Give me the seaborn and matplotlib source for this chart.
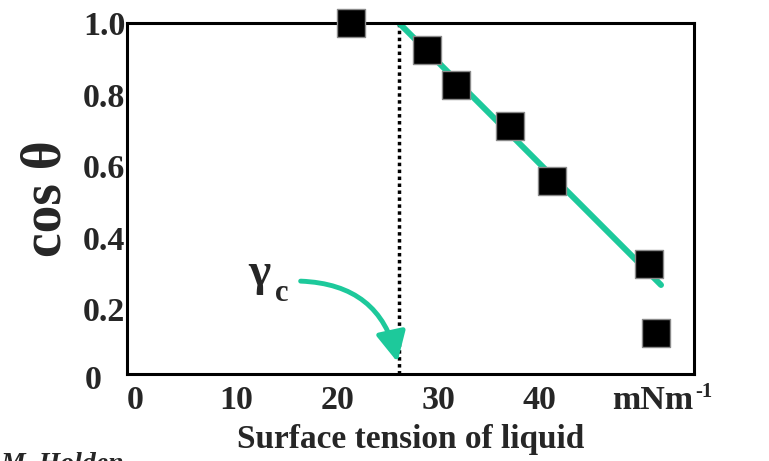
import numpy as np
import pandas as pd
import seaborn as sns
import matplotlib.pyplot as plt
from matplotlib.patches import FancyArrowPatch

# data
surface_tension = [21.4, 28.9, 31.7, 37.1, 41.2, 50.8, 51.5]
cos_theta = [1.0, 0.924, 0.827, 0.712, 0.559, 0.327, 0.134]
fit_x = [26.1, 52.0]
fit_y = [1.0, 0.268]
gamma_c = 26.1
x_ticks = [0, 10, 20, 30, 40]
y_ticks = [0.2, 0.4, 0.6, 0.8, 1.0]
y_tick_labels = ['0.2', '0.4', '0.6', '0.8', '1.0']

teal = '#1dc99b'

sns.set_style('white')
plt.rcParams['font.family'] = ['Liberation Serif', 'DejaVu Serif']

df = pd.DataFrame({'x': surface_tension, 'y': cos_theta})
fit = pd.DataFrame({'x': fit_x, 'y': fit_y})

fig = plt.figure(figsize=(7.69, 4.61), dpi=100)
ax = fig.add_axes([0.165, 0.189, 0.738, 0.761])

sns.lineplot(data=fit, x='x', y='y', ax=ax, color=teal, lw=4.3, zorder=2)
ax.axvline(gamma_c, color='black', ls=(0, (1, 1)), lw=2.5, zorder=1)
sns.scatterplot(data=df, x='x', y='y', ax=ax, marker='s', s=400,
                color='black', edgecolor='#8a8a8a', linewidth=1,
                zorder=5, clip_on=False)

ax.set_xlim(-0.8, 55.3)
ax.set_ylim(0.0196, 1.0)
ax.set_xticks(x_ticks)
ax.set_xticklabels([str(t) for t in x_ticks], fontsize=24.5, fontweight='bold')
ax.set_yticks(y_ticks)
ax.set_yticklabels(y_tick_labels, fontsize=24.5, fontweight='bold')
ax.tick_params(length=0)
ax.tick_params(axis='x', pad=8)
ax.tick_params(axis='y', pad=1)
for s in ax.spines.values():
    s.set_color('black')
    s.set_linewidth(2.2)

# "0" on the y axis sits below the frame
ax.text(-0.045, 0.0, '0', transform=ax.get_yaxis_transform(), ha='right',
        va='center', fontsize=24.5, fontweight='bold', clip_on=False)
# unit label next to the last tick
ax.annotate('mNm', xy=(47.2, 0.0196), xytext=(0, -8),
            textcoords='offset points', ha='left', va='top',
            fontsize=24.5, fontweight='bold', annotation_clip=False)
ax.annotate('-1', xy=(55.4, 0.0196), xytext=(0, -6),
            textcoords='offset points', ha='left', va='top',
            fontsize=15, fontweight='bold', annotation_clip=False)

ax.set_xlabel('Surface tension of liquid', fontsize=24, fontweight='bold', labelpad=6)
ax.set_ylabel('cos θ', fontsize=40, fontweight='bold', labelpad=8)

# gamma_c label with curved arrow
ax.text(12.3, 0.30, 'γ', fontsize=34, fontweight='bold', ha='center', va='center')
ax.text(14.5, 0.243, 'c', fontsize=22, fontweight='bold', ha='center', va='center')
arrow = FancyArrowPatch((16.1, 0.279), (26.0, 0.045),
                        connectionstyle='arc3,rad=-0.4',
                        arrowstyle='-|>,head_length=0.9,head_width=0.45',
                        mutation_scale=20, lw=3.5, color=teal, zorder=4)
ax.add_patch(arrow)

fig.text(0.0, 0.02, 'M. Holden', fontsize=20, fontstyle='italic',
         fontweight='bold', ha='left', va='top')

fig.savefig('out.png', dpi=100)
